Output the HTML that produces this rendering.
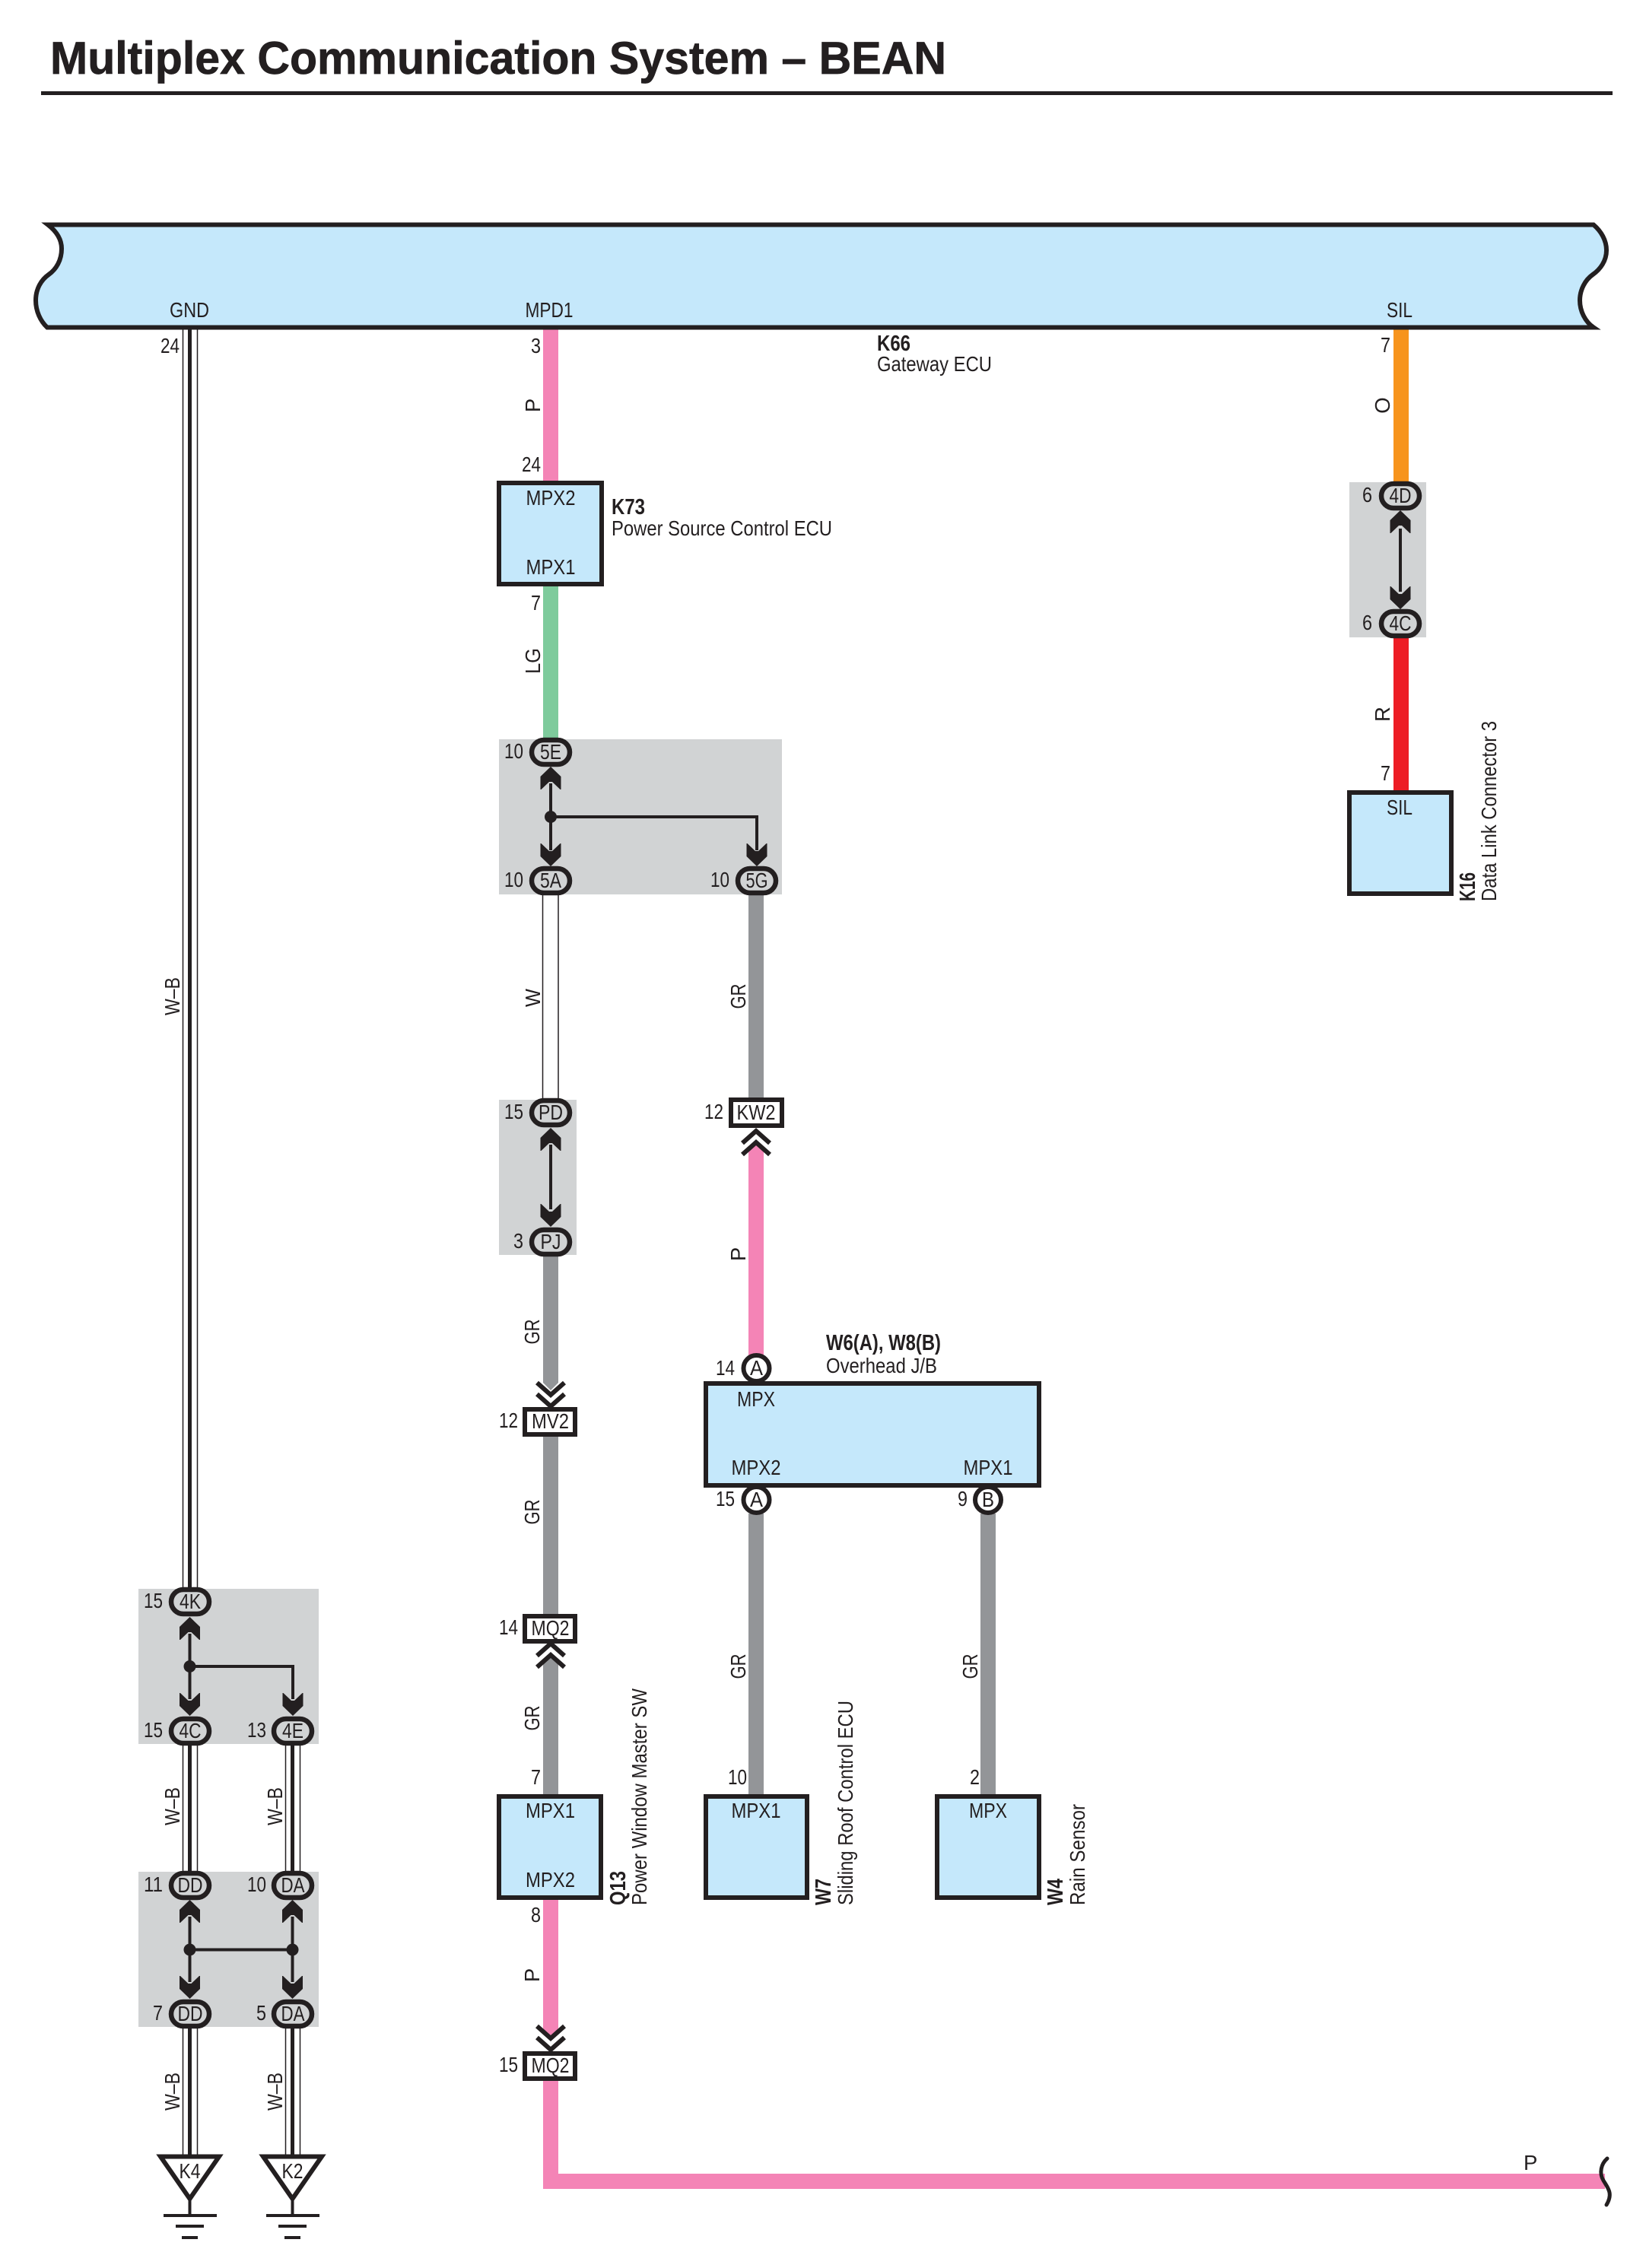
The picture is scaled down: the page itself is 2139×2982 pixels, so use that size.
<!DOCTYPE html>
<html><head><meta charset="utf-8"><title>Multiplex Communication System – BEAN</title>
<style>
html,body{margin:0;padding:0;background:#fff}
svg{display:block}
text{font-family:"Liberation Sans",sans-serif;font-size:27.5px;fill:#231f20}
text.b{font-weight:bold;font-size:29px}
.m{text-anchor:middle}
.e{text-anchor:end}
</style></head><body>
<svg width="2139" height="2982" viewBox="0 0 2139 2982" xmlns="http://www.w3.org/2000/svg">
<defs>
<path id="au" d="M0 0L13.5 13V30H12.5L2 20H-2L-12.5 30H-13.5V13Z" fill="#231f20"/>
<path id="ad" d="M0 0L13.5 -13V-30H12.5L2 -20H-2L-12.5 -30H-13.5V-13Z" fill="#231f20"/>
<g id="cd" fill="none" stroke="#231f20" stroke-width="6"><path d="M-18 -16L0 0L18 -16"/><path d="M-18 -1L0 15L18 -1"/></g>
<g id="cu" fill="none" stroke="#231f20" stroke-width="6"><path d="M-18 16L0 0L18 16"/><path d="M-18 1L0 -15L18 1"/></g>
</defs>

<!-- title -->
<text x="66" y="97" class="b" style="font-size:60px;stroke:#231f20;stroke-width:.7px" textLength="1178" lengthAdjust="spacingAndGlyphs">Multiplex Communication System – BEAN</text>
<rect x="54" y="120" width="2066" height="5" fill="#231f20"/>

<!-- grey boxes -->
<g fill="#d1d3d4">
<rect x="656" y="972" width="372" height="204"/>
<rect x="656" y="1446" width="102" height="204"/>
<rect x="1774" y="634" width="101" height="204"/>
<rect x="182" y="2089" width="237" height="204"/>
<rect x="182" y="2461" width="237" height="204"/>
</g>

<!-- coloured wires -->
<g>
<rect x="714" y="430" width="20" height="205" fill="#f484b6"/>
<rect x="714" y="770" width="20" height="202" fill="#7ecb9c"/>
<rect x="984" y="1176" width="20" height="268" fill="#939598"/>
<path d="M714 1818L724 1828L734 1818V1652H714Z" fill="#939598"/>
<rect x="714" y="1888" width="20" height="236" fill="#939598"/>
<path d="M714 2186L724 2178L734 2186V2362H714Z" fill="#939598"/>
<path d="M714 2497H734V2668L724 2676L714 2668Z" fill="#f484b6"/>
<rect x="714" y="2734" width="20" height="134" fill="#f484b6"/>
<rect x="714" y="2858" width="1396" height="20" fill="#f484b6"/>
<path d="M984 1512L994 1504L1004 1512V1782H984Z" fill="#f484b6"/>
<rect x="984" y="1990" width="20" height="372" fill="#939598"/>
<rect x="1289" y="1990" width="20" height="372" fill="#939598"/>
<rect x="1832" y="430" width="20" height="204" fill="#f7941d"/>
<rect x="1832" y="838" width="20" height="204" fill="#ed1c24"/>
</g>

<!-- bus -->
<path d="M63 295.5H2095C2105 304 2112 316 2112 329C2112 343 2104 354 2094 361C2084 368 2077 381 2077 395C2077 409 2084 423 2095 430.5H62C53 422 47 409 47 395C47 380 54 368 64 361C74 354 81 342 81 327C81 314 74 304 63 295.5Z" fill="#c5e8fb" stroke="#231f20" stroke-width="6" stroke-linejoin="miter"/>

<!-- W wire -->
<g fill="none" stroke="#231f20" stroke-width="1.5">
<path d="M713.5 1176V1445M734 1176V1445"/>
</g>
<!-- W-B wires -->
<g fill="none" stroke="#231f20" stroke-width="1.5">
<path d="M240.5 432V2088M259.5 432V2088M240.5 2294V2461M259.5 2294V2461M240.5 2666V2834M259.5 2666V2834"/>
<path d="M375.5 2294V2461M394.5 2294V2461M375.5 2666V2834M394.5 2666V2834"/>
</g>
<g fill="none" stroke="#231f20" stroke-width="5">
<path d="M249.5 432V2088M249.5 2294V2461M249.5 2666V2834M384.5 2294V2461M384.5 2666V2834"/>
</g>

<!-- internal links -->
<g fill="none" stroke="#231f20" stroke-width="4">
<path d="M724 1030V1118M724 1074H995V1118"/>
<path d="M724 1505V1590"/>
<path d="M1841 695V778"/>
<path d="M249.5 2148V2234M249.5 2191H385V2234"/>
<path d="M249.5 2520V2606M384.5 2520V2606M249.5 2563.5H384.5"/>
</g>
<g fill="#231f20">
<circle cx="724" cy="1074" r="8"/>
<circle cx="249.5" cy="2191" r="8"/>
<circle cx="249.5" cy="2563.5" r="8"/>
<circle cx="384.5" cy="2563.5" r="8"/>
</g>
<use href="#au" x="724" y="1008"/><use href="#ad" x="724" y="1139"/><use href="#ad" x="995" y="1139"/>
<use href="#au" x="724" y="1483"/><use href="#ad" x="724" y="1613"/>
<use href="#au" x="1841" y="671"/><use href="#ad" x="1841" y="801"/>
<use href="#au" x="249.5" y="2126"/><use href="#ad" x="249.5" y="2256"/><use href="#ad" x="385" y="2256"/>
<use href="#au" x="249.5" y="2498"/><use href="#ad" x="249.5" y="2628"/>
<use href="#au" x="384.5" y="2498"/><use href="#ad" x="384.5" y="2628"/>

<!-- chevrons -->
<use href="#cd" x="724" y="1834"/>
<use href="#cu" x="724" y="2176"/>
<use href="#cd" x="724" y="2680"/>
<use href="#cu" x="994" y="1502"/>

<!-- oval connectors -->
<g fill="#d1d3d4" stroke="#231f20" stroke-width="6.5">
<rect x="699" y="973" width="50" height="32" rx="16"/>
<rect x="699" y="1142" width="50" height="32" rx="16"/>
<rect x="970" y="1142" width="50" height="32" rx="16"/>
<rect x="699" y="1447" width="50" height="32" rx="16"/>
<rect x="699" y="1617" width="50" height="32" rx="16"/>
<rect x="1816" y="636" width="50" height="32" rx="16"/>
<rect x="1816" y="804" width="50" height="32" rx="16"/>
<rect x="225" y="2090" width="50" height="32" rx="16"/>
<rect x="225" y="2260" width="50" height="32" rx="16"/>
<rect x="360" y="2260" width="50" height="32" rx="16"/>
<rect x="225" y="2463" width="50" height="32" rx="16"/>
<rect x="360" y="2463" width="50" height="32" rx="16"/>
<rect x="225" y="2632" width="50" height="32" rx="16"/>
<rect x="360" y="2632" width="50" height="32" rx="16"/>
</g>

<!-- rect connectors -->
<g fill="#fff" stroke="#231f20" stroke-width="6">
<rect x="961" y="1446" width="67" height="34"/>
<rect x="690" y="1853" width="66" height="33"/>
<rect x="690" y="2125" width="66" height="33"/>
<rect x="690" y="2700" width="66" height="33"/>
</g>

<!-- round connectors -->
<g fill="#fff" stroke="#231f20" stroke-width="6">
<circle cx="994.5" cy="1799" r="17"/>
<circle cx="994.5" cy="1972" r="17"/>
<circle cx="1299" cy="1972" r="17"/>
</g>

<!-- blue boxes -->
<g fill="#c5e8fb" stroke="#231f20" stroke-width="6">
<rect x="656" y="635" width="135" height="133"/>
<rect x="1774" y="1042" width="134" height="133"/>
<rect x="928" y="1819" width="438" height="134"/>
<rect x="656" y="2362" width="134" height="133"/>
<rect x="928" y="2362" width="133" height="133"/>
<rect x="1232" y="2362" width="134" height="133"/>
</g>

<!-- grounds -->
<g fill="#fff" stroke="#231f20" stroke-width="6">
<path d="M211 2835.5H288L249.5 2891Z"/>
<path d="M346 2835.5H423L384.5 2891Z"/>
</g>
<g fill="none" stroke="#231f20" stroke-width="4">
<path d="M249.5 2891V2913M215 2913H285M231 2927H268M239 2942H260"/>
<path d="M384.5 2891V2913M350 2913H420M366 2927H403M374 2942H395"/>
</g>

<!-- break -->
<path d="M2113 2838C2105 2845 2102 2857 2108 2867C2114 2877 2121 2884 2112 2899" fill="none" stroke="#231f20" stroke-width="5" stroke-linecap="round"/>

<!-- bus labels -->
<text x="249" y="417" class="m" textLength="52" lengthAdjust="spacingAndGlyphs">GND</text>
<text x="722" y="417" class="m" textLength="63" lengthAdjust="spacingAndGlyphs">MPD1</text>
<text x="1840" y="417" class="m" textLength="34" lengthAdjust="spacingAndGlyphs">SIL</text>

<text x="1153" y="461" class="b" textLength="44" lengthAdjust="spacingAndGlyphs">K66</text>
<text x="1153" y="488" textLength="151" lengthAdjust="spacingAndGlyphs">Gateway ECU</text>
<text x="804" y="676" class="b" textLength="44" lengthAdjust="spacingAndGlyphs">K73</text>
<text x="804" y="704" textLength="290" lengthAdjust="spacingAndGlyphs">Power Source Control ECU</text>
<text x="1086" y="1775" class="b" textLength="151" lengthAdjust="spacingAndGlyphs">W6(A), W8(B)</text>
<text x="1086" y="1805" textLength="146" lengthAdjust="spacingAndGlyphs">Overhead J/B</text>

<!-- pin numbers -->
<g class="e">
<text x="236" y="464" class="e" textLength="25" lengthAdjust="spacingAndGlyphs">24</text>
<text x="711" y="464" class="e" textLength="13" lengthAdjust="spacingAndGlyphs">3</text>
<text x="711" y="620" class="e" textLength="25" lengthAdjust="spacingAndGlyphs">24</text>
<text x="711" y="802" class="e" textLength="13" lengthAdjust="spacingAndGlyphs">7</text>
<text x="1828" y="463" class="e" textLength="13" lengthAdjust="spacingAndGlyphs">7</text>
<text x="1804" y="660" class="e" textLength="13" lengthAdjust="spacingAndGlyphs">6</text>
<text x="1804" y="828" class="e" textLength="13" lengthAdjust="spacingAndGlyphs">6</text>
<text x="1828" y="1026" class="e" textLength="13" lengthAdjust="spacingAndGlyphs">7</text>
<text x="688" y="997" class="e" textLength="25" lengthAdjust="spacingAndGlyphs">10</text>
<text x="688" y="1166" class="e" textLength="25" lengthAdjust="spacingAndGlyphs">10</text>
<text x="959" y="1166" class="e" textLength="25" lengthAdjust="spacingAndGlyphs">10</text>
<text x="688" y="1471" class="e" textLength="25" lengthAdjust="spacingAndGlyphs">15</text>
<text x="688" y="1641" class="e" textLength="13" lengthAdjust="spacingAndGlyphs">3</text>
<text x="951" y="1471" class="e" textLength="25" lengthAdjust="spacingAndGlyphs">12</text>
<text x="966" y="1808" class="e" textLength="25" lengthAdjust="spacingAndGlyphs">14</text>
<text x="966" y="1980" class="e" textLength="25" lengthAdjust="spacingAndGlyphs">15</text>
<text x="1272" y="1980" class="e" textLength="13" lengthAdjust="spacingAndGlyphs">9</text>
<text x="681" y="1877" class="e" textLength="25" lengthAdjust="spacingAndGlyphs">12</text>
<text x="681" y="2149" class="e" textLength="25" lengthAdjust="spacingAndGlyphs">14</text>
<text x="681" y="2724" class="e" textLength="25" lengthAdjust="spacingAndGlyphs">15</text>
<text x="711" y="2346" class="e" textLength="13" lengthAdjust="spacingAndGlyphs">7</text>
<text x="711" y="2527" class="e" textLength="13" lengthAdjust="spacingAndGlyphs">8</text>
<text x="982" y="2346" class="e" textLength="25" lengthAdjust="spacingAndGlyphs">10</text>
<text x="1288" y="2346" class="e" textLength="13" lengthAdjust="spacingAndGlyphs">2</text>
<text x="214" y="2114" class="e" textLength="25" lengthAdjust="spacingAndGlyphs">15</text>
<text x="214" y="2284" class="e" textLength="25" lengthAdjust="spacingAndGlyphs">15</text>
<text x="350" y="2284" class="e" textLength="25" lengthAdjust="spacingAndGlyphs">13</text>
<text x="214" y="2487" class="e" textLength="25" lengthAdjust="spacingAndGlyphs">11</text>
<text x="350" y="2487" class="e" textLength="25" lengthAdjust="spacingAndGlyphs">10</text>
<text x="214" y="2656" class="e" textLength="13" lengthAdjust="spacingAndGlyphs">7</text>
<text x="350" y="2656" class="e" textLength="13" lengthAdjust="spacingAndGlyphs">5</text>
</g>

<!-- connector labels -->
<g class="m">
<text x="724" y="998" class="m" textLength="28" lengthAdjust="spacingAndGlyphs">5E</text>
<text x="724" y="1167" class="m" textLength="28" lengthAdjust="spacingAndGlyphs">5A</text>
<text x="995" y="1167" class="m" textLength="29" lengthAdjust="spacingAndGlyphs">5G</text>
<text x="724" y="1472" class="m" textLength="32" lengthAdjust="spacingAndGlyphs">PD</text>
<text x="724" y="1642" class="m" textLength="27" lengthAdjust="spacingAndGlyphs">PJ</text>
<text x="1841" y="661" class="m" textLength="29" lengthAdjust="spacingAndGlyphs">4D</text>
<text x="1841" y="829" class="m" textLength="29" lengthAdjust="spacingAndGlyphs">4C</text>
<text x="250" y="2115" class="m" textLength="28" lengthAdjust="spacingAndGlyphs">4K</text>
<text x="250" y="2285" class="m" textLength="29" lengthAdjust="spacingAndGlyphs">4C</text>
<text x="385" y="2285" class="m" textLength="28" lengthAdjust="spacingAndGlyphs">4E</text>
<text x="250" y="2488" class="m" textLength="33" lengthAdjust="spacingAndGlyphs">DD</text>
<text x="385" y="2488" class="m" textLength="31" lengthAdjust="spacingAndGlyphs">DA</text>
<text x="250" y="2657" class="m" textLength="33" lengthAdjust="spacingAndGlyphs">DD</text>
<text x="385" y="2657" class="m" textLength="31" lengthAdjust="spacingAndGlyphs">DA</text>
<text x="994" y="1472" class="m" textLength="51" lengthAdjust="spacingAndGlyphs">KW2</text>
<text x="723.5" y="1878" class="m" textLength="49" lengthAdjust="spacingAndGlyphs">MV2</text>
<text x="723.5" y="2150" class="m" textLength="50" lengthAdjust="spacingAndGlyphs">MQ2</text>
<text x="723.5" y="2725" class="m" textLength="50" lengthAdjust="spacingAndGlyphs">MQ2</text>
<text x="994.5" y="1808" class="m" textLength="17" lengthAdjust="spacingAndGlyphs">A</text>
<text x="994.5" y="1981" class="m" textLength="17" lengthAdjust="spacingAndGlyphs">A</text>
<text x="1299" y="1981" class="m" textLength="16" lengthAdjust="spacingAndGlyphs">B</text>
<text x="249.5" y="2864" class="m" textLength="28" lengthAdjust="spacingAndGlyphs">K4</text>
<text x="384.5" y="2864" class="m" textLength="28" lengthAdjust="spacingAndGlyphs">K2</text>
</g>

<!-- box labels -->
<text x="724" y="664" class="m" textLength="65" lengthAdjust="spacingAndGlyphs">MPX2</text>
<text x="724" y="755" class="m" textLength="65" lengthAdjust="spacingAndGlyphs">MPX1</text>
<text x="1840" y="1071" class="m" textLength="34" lengthAdjust="spacingAndGlyphs">SIL</text>
<text x="994" y="1849" class="m" textLength="50" lengthAdjust="spacingAndGlyphs">MPX</text>
<text x="994" y="1939" class="m" textLength="65" lengthAdjust="spacingAndGlyphs">MPX2</text>
<text x="1299" y="1939" class="m" textLength="65" lengthAdjust="spacingAndGlyphs">MPX1</text>
<text x="723.5" y="2390" class="m" textLength="65" lengthAdjust="spacingAndGlyphs">MPX1</text>
<text x="723.5" y="2481" class="m" textLength="65" lengthAdjust="spacingAndGlyphs">MPX2</text>
<text x="994" y="2390" class="m" textLength="65" lengthAdjust="spacingAndGlyphs">MPX1</text>
<text x="1299" y="2390" class="m" textLength="50" lengthAdjust="spacingAndGlyphs">MPX</text>

<!-- rotated wire colour labels -->
<text transform="translate(236 1310) rotate(-90)" class="m" textLength="50" lengthAdjust="spacingAndGlyphs">W–B</text>
<text transform="translate(236 2375) rotate(-90)" class="m" textLength="50" lengthAdjust="spacingAndGlyphs">W–B</text>
<text transform="translate(371 2375) rotate(-90)" class="m" textLength="50" lengthAdjust="spacingAndGlyphs">W–B</text>
<text transform="translate(236 2750) rotate(-90)" class="m" textLength="50" lengthAdjust="spacingAndGlyphs">W–B</text>
<text transform="translate(371 2750) rotate(-90)" class="m" textLength="50" lengthAdjust="spacingAndGlyphs">W–B</text>
<text transform="translate(710 533) rotate(-90)" class="m">P</text>
<text transform="translate(710 869) rotate(-90)" class="m" textLength="34" lengthAdjust="spacingAndGlyphs">LG</text>
<text transform="translate(710 1312) rotate(-90)" class="m" textLength="24" lengthAdjust="spacingAndGlyphs">W</text>
<text transform="translate(980 1310) rotate(-90)" class="m" textLength="33" lengthAdjust="spacingAndGlyphs">GR</text>
<text transform="translate(709 1751) rotate(-90)" class="m" textLength="33" lengthAdjust="spacingAndGlyphs">GR</text>
<text transform="translate(709 1988) rotate(-90)" class="m" textLength="33" lengthAdjust="spacingAndGlyphs">GR</text>
<text transform="translate(709 2259) rotate(-90)" class="m" textLength="33" lengthAdjust="spacingAndGlyphs">GR</text>
<text transform="translate(709 2597) rotate(-90)" class="m">P</text>
<text transform="translate(980 1649) rotate(-90)" class="m">P</text>
<text transform="translate(980 2191) rotate(-90)" class="m" textLength="33" lengthAdjust="spacingAndGlyphs">GR</text>
<text transform="translate(1285 2191) rotate(-90)" class="m" textLength="33" lengthAdjust="spacingAndGlyphs">GR</text>
<text transform="translate(1827 533) rotate(-90)" class="m">O</text>
<text transform="translate(1827 939) rotate(-90)" class="m">R</text>
<text x="2003" y="2853">P</text>

<!-- rotated component labels -->
<text transform="translate(822 2505) rotate(-90)" class="b" textLength="45" lengthAdjust="spacingAndGlyphs">Q13</text>
<text transform="translate(850 2505) rotate(-90)" textLength="285" lengthAdjust="spacingAndGlyphs">Power Window Master SW</text>
<text transform="translate(1092 2505) rotate(-90)" class="b" textLength="35" lengthAdjust="spacingAndGlyphs">W7</text>
<text transform="translate(1121 2505) rotate(-90)" textLength="269" lengthAdjust="spacingAndGlyphs">Sliding Roof Control ECU</text>
<text transform="translate(1397 2505) rotate(-90)" class="b" textLength="35" lengthAdjust="spacingAndGlyphs">W4</text>
<text transform="translate(1426 2505) rotate(-90)" textLength="133" lengthAdjust="spacingAndGlyphs">Rain Sensor</text>
<text transform="translate(1939 1185) rotate(-90)" class="b" textLength="38" lengthAdjust="spacingAndGlyphs">K16</text>
<text transform="translate(1967 1185) rotate(-90)" textLength="237" lengthAdjust="spacingAndGlyphs">Data Link Connector 3</text>
</svg>
</body></html>
